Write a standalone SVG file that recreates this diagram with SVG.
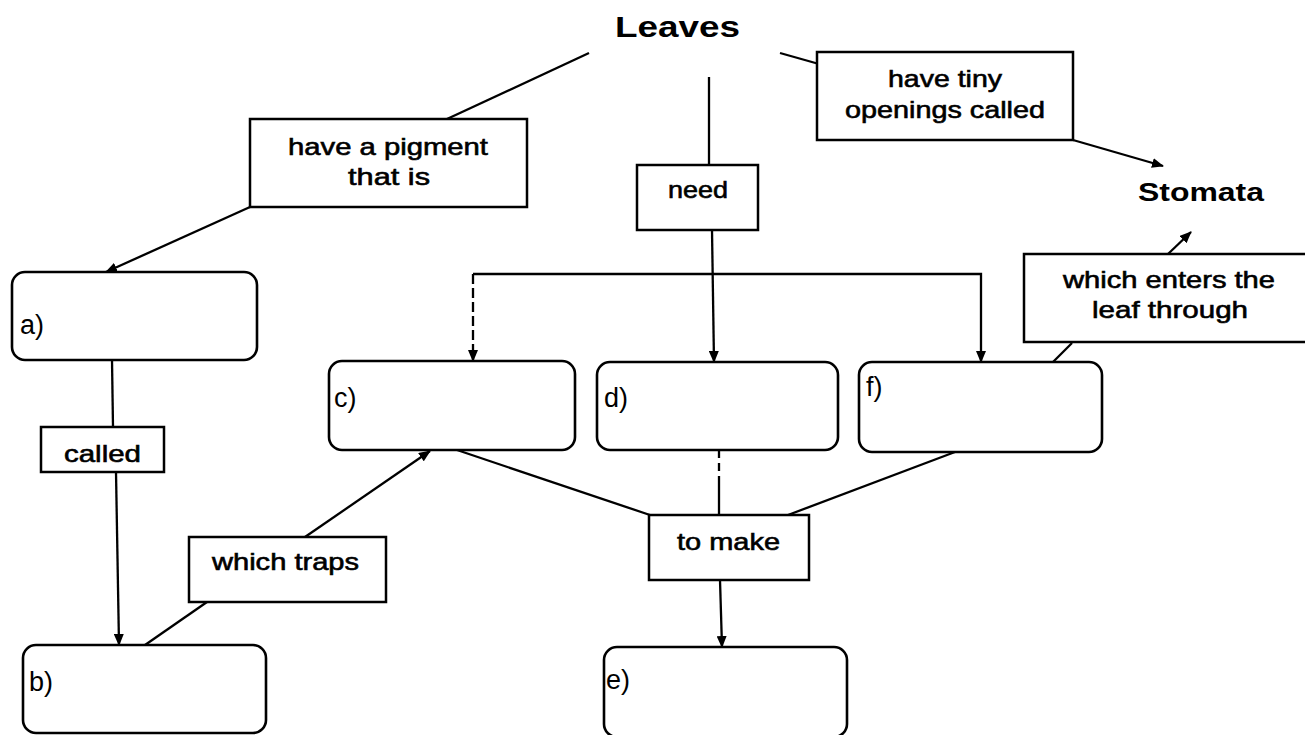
<svg xmlns="http://www.w3.org/2000/svg" width="1305" height="735" viewBox="0 0 1305 735">
<defs>
<marker id="ah" markerWidth="12" markerHeight="10" refX="11" refY="5" orient="auto" markerUnits="userSpaceOnUse">
<path d="M0,0 L12,5 L0,10 z" fill="#000"/>
</marker>
<style>
.box{fill:#fff;stroke:#000;stroke-width:2.5}
.node{fill:#fff;stroke:#000;stroke-width:2.6}
.t{font-family:"Liberation Sans",Arial,sans-serif;font-size:24px;fill:#000;stroke:#000;stroke-width:0.6}
.title{font-family:"Liberation Sans",Arial,sans-serif;font-weight:bold;fill:#000}
.lab{font-family:"Liberation Sans",Arial,sans-serif;font-size:27px;fill:#000}
.c{fill:none;stroke:#000;stroke-width:2.3}
</style>
</defs>
<rect width="1305" height="735" fill="#fff"/>
<g id="connectors">
<line class="c" x1="589" y1="53" x2="447" y2="119"/>
<line class="c" x1="250" y1="207" x2="106" y2="272" marker-end="url(#ah)"/>
<line class="c" x1="780" y1="53" x2="819" y2="64"/>
<line class="c" x1="1073" y1="140" x2="1163" y2="166" marker-end="url(#ah)"/>
<line class="c" x1="709" y1="77" x2="709" y2="165"/>
<line class="c" x1="712" y1="230" x2="714" y2="362" marker-end="url(#ah)"/>
<polyline class="c" points="473,274 981,274 981,362" marker-end="url(#ah)"/>
<line class="c" x1="473" y1="274" x2="473" y2="361" stroke-dasharray="10,4" marker-end="url(#ah)"/>
<line class="c" x1="1168" y1="254" x2="1191" y2="232" marker-end="url(#ah)"/>
<line class="c" x1="1072" y1="343" x2="1053" y2="362"/>
<line class="c" x1="112" y1="360" x2="113" y2="427"/>
<line class="c" x1="116" y1="472" x2="119" y2="645" marker-end="url(#ah)"/>
<line class="c" x1="145" y1="645" x2="207" y2="602"/>
<line class="c" x1="305" y1="537" x2="430" y2="451" marker-end="url(#ah)"/>
<line class="c" x1="457" y1="450" x2="650" y2="515"/>
<line class="c" x1="719" y1="450" x2="719" y2="480" stroke-dasharray="8,5"/>
<line class="c" x1="719" y1="480" x2="719" y2="515"/>
<line class="c" x1="955" y1="452" x2="788" y2="515"/>
<line class="c" x1="720" y1="580" x2="722" y2="647" marker-end="url(#ah)"/>
</g>
<g id="leaves"><text class="title" x="615" y="37" font-size="30" textLength="125" lengthAdjust="spacingAndGlyphs">Leaves</text></g>
<g id="stomata"><text class="title" x="1138" y="201" font-size="25" textLength="126" lengthAdjust="spacingAndGlyphs">Stomata</text></g>
<g id="pigment">
<rect class="box" x="250" y="119" width="277" height="88"/>
<text class="t" x="288" y="155" textLength="200" lengthAdjust="spacingAndGlyphs">have a pigment</text>
<text class="t" x="348" y="185" textLength="82" lengthAdjust="spacingAndGlyphs">that is</text>
</g>
<g id="tiny">
<rect class="box" x="817" y="52" width="256" height="88"/>
<text class="t" x="888" y="87" textLength="114" lengthAdjust="spacingAndGlyphs">have tiny</text>
<text class="t" x="845" y="118" textLength="200" lengthAdjust="spacingAndGlyphs">openings called</text>
</g>
<g id="need">
<rect class="box" x="637" y="165" width="121" height="65"/>
<text class="t" x="668" y="198" textLength="60" lengthAdjust="spacingAndGlyphs">need</text>
</g>
<g id="enters">
<rect class="box" x="1024" y="254" width="300" height="88"/>
<text class="t" x="1063" y="288" textLength="212" lengthAdjust="spacingAndGlyphs">which enters the</text>
<text class="t" x="1092" y="318" textLength="156" lengthAdjust="spacingAndGlyphs">leaf through</text>
</g>
<g id="called">
<rect class="box" x="41" y="427" width="123" height="45"/>
<text class="t" x="64" y="462" textLength="77" lengthAdjust="spacingAndGlyphs">called</text>
</g>
<g id="traps">
<rect class="box" x="189" y="537" width="197" height="65"/>
<text class="t" x="212" y="570" textLength="147" lengthAdjust="spacingAndGlyphs">which traps</text>
</g>
<g id="tomake">
<rect class="box" x="649" y="515" width="160" height="65"/>
<text class="t" x="677" y="550" textLength="103" lengthAdjust="spacingAndGlyphs">to make</text>
</g>
<g id="node-a">
<rect class="node" x="12" y="272" width="245" height="88" rx="13"/>
<text class="lab" x="20" y="334">a)</text>
</g>
<g id="node-b">
<rect class="node" x="23" y="645" width="243" height="88" rx="13"/>
<text class="lab" x="29" y="691">b)</text>
</g>
<g id="node-c">
<rect class="node" x="329" y="361" width="246" height="89" rx="13"/>
<text class="lab" x="334" y="407">c)</text>
</g>
<g id="node-d">
<rect class="node" x="597" y="362" width="241" height="88" rx="13"/>
<text class="lab" x="604" y="407">d)</text>
</g>
<g id="node-f">
<rect class="node" x="859" y="362" width="243" height="90" rx="13"/>
<text class="lab" x="866" y="396">f)</text>
</g>
<g id="node-e">
<rect class="node" x="604" y="647" width="243" height="90" rx="13"/>
<text class="lab" x="606" y="689">e)</text>
</g>
</svg>
